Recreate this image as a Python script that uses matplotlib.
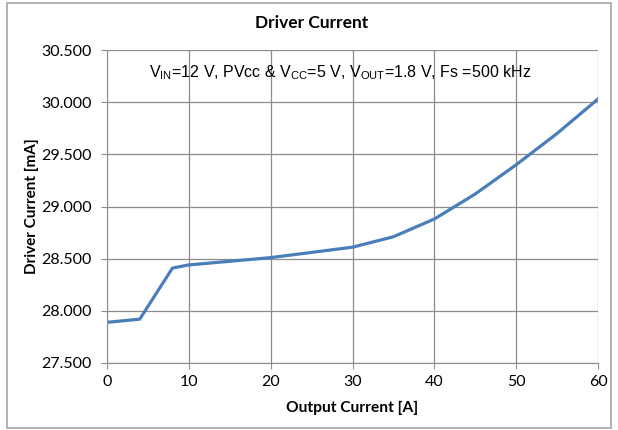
import matplotlib
matplotlib.use("Agg")
import matplotlib.pyplot as plt
from matplotlib.patches import Rectangle

# data
output_current = [0, 4, 8, 10, 20, 25, 30, 35, 40, 45, 50, 55, 60]
driver_current = [27.89, 27.92, 28.41, 28.44, 28.51, 28.56, 28.61, 28.71, 28.88, 29.12, 29.40, 29.70, 30.03]
x_ticks = [0, 10, 20, 30, 40, 50, 60]
y_ticks = [27.5, 28.0, 28.5, 29.0, 29.5, 30.0, 30.5]

plt.rcParams['font.family'] = ['Lato', 'DejaVu Sans']
plt.rcParams['mathtext.fontset'] = 'custom'
plt.rcParams['mathtext.rm'] = 'Liberation Sans'

W, H = 618, 430
fig = plt.figure(figsize=(W / 100, H / 100), dpi=100)
ax = fig.add_axes([107 / W, 1 - 363 / H, (598 - 107) / W, (363 - 50) / H])

# outer chart border
fig.patches.append(Rectangle((7 / W, 2 / H), (611 - 7) / W, (427 - 2) / H,
                             transform=fig.transFigure, fill=False,
                             edgecolor='#a6a6a6', linewidth=1.2))

ax.plot(output_current, driver_current, color='#4a7ebb', linewidth=2.3)

ax.set_xlim(0, 60)
ax.set_ylim(27.5, 30.5)
ax.set_xticks(x_ticks)
ax.set_yticks(y_ticks)
ax.set_yticklabels(['{:.3f}'.format(v) for v in y_ticks])
ax.grid(True, color='#8c8c8c', linewidth=0.9)
ax.set_axisbelow(True)
for s in ['top', 'right']:
    ax.spines[s].set_visible(False)
ax.spines['left'].set_color('#8c8c8c')
ax.spines['bottom'].set_color('#8c8c8c')
ax.tick_params(axis='both', colors='#8c8c8c', labelcolor='black', labelsize=11.5,
               length=4, direction='out')
ax.tick_params(axis='x', pad=5)
ax.tick_params(axis='y', pad=7)

fig.text(312 / W, 1 - 23 / H, 'Driver Current', fontsize=12.5, fontweight='bold',
         ha='center', va='center')
ax.set_xlabel('Output Current [A]', fontsize=11.2, fontweight='bold')
ax.xaxis.set_label_coords(0.5, -(408 - 363) / 313)
ax.set_ylabel('Driver Current [mA]', fontsize=11, fontweight='bold')
ax.yaxis.set_label_coords(-(107 - 32) / 491, 0.5)
ax.yaxis.label.set_va('center')
ax.xaxis.label.set_va('center')

ax.text((340 - 107) / 491, (363 - 73) / 313,
        r'V$_{\mathrm{IN}}$=12 V, PVcc & V$_{\mathrm{CC}}$=5 V, V$_{\mathrm{OUT}}$=1.8 V, Fs =500 kHz',
        transform=ax.transAxes, ha='center', va='center', fontsize=11.5,
        family='Liberation Sans')

fig.savefig('out.png', dpi=100)
